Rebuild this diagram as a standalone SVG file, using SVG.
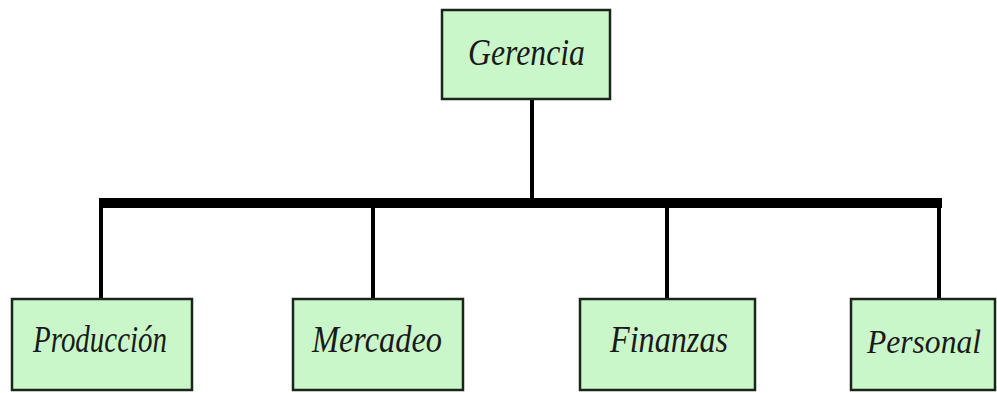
<svg xmlns="http://www.w3.org/2000/svg" width="997" height="393" viewBox="0 0 997 393">
<style>
.box{fill:#c9f7c9;stroke:#1b261b;stroke-width:2.5}
.lbl{font-family:"Liberation Serif","DejaVu Serif",serif;font-style:italic;font-size:38px;fill:#1a1a1a}
.ln{stroke:#000;stroke-width:4;fill:none}
.bus{stroke:#000;stroke-width:10;fill:none}
</style>
<rect width="997" height="393" fill="#fff"/>
<g id="connectors">
<line class="ln" x1="532" y1="99" x2="532" y2="200"/>
<line class="bus" x1="99" y1="203" x2="942" y2="203"/>
<line class="ln" x1="101" y1="203" x2="101" y2="299"/>
<line class="ln" x1="373" y1="203" x2="373" y2="299"/>
<line class="ln" x1="667" y1="203" x2="667" y2="299"/>
<line class="ln" x1="939" y1="203" x2="939" y2="299"/>
</g>
<g id="gerencia">
<rect class="box" x="442" y="10" width="168" height="89"/>
<text class="lbl" x="468" y="65" textLength="117" lengthAdjust="spacingAndGlyphs">Gerencia</text>
</g>
<g id="produccion">
<rect class="box" x="12" y="299" width="180" height="91"/>
<text class="lbl" x="33" y="352" textLength="134" lengthAdjust="spacingAndGlyphs">Producción</text>
</g>
<g id="mercadeo">
<rect class="box" x="293" y="299" width="170" height="91"/>
<text class="lbl" x="312" y="352" textLength="130" lengthAdjust="spacingAndGlyphs">Mercadeo</text>
</g>
<g id="finanzas">
<rect class="box" x="580" y="299" width="175" height="91"/>
<text class="lbl" x="610" y="352" textLength="118" lengthAdjust="spacingAndGlyphs">Finanzas</text>
</g>
<g id="personal">
<rect class="box" x="851" y="299" width="144" height="91"/>
<text class="lbl" x="867" y="353" style="font-size:34px" textLength="114" lengthAdjust="spacingAndGlyphs">Personal</text>
</g>
</svg>
